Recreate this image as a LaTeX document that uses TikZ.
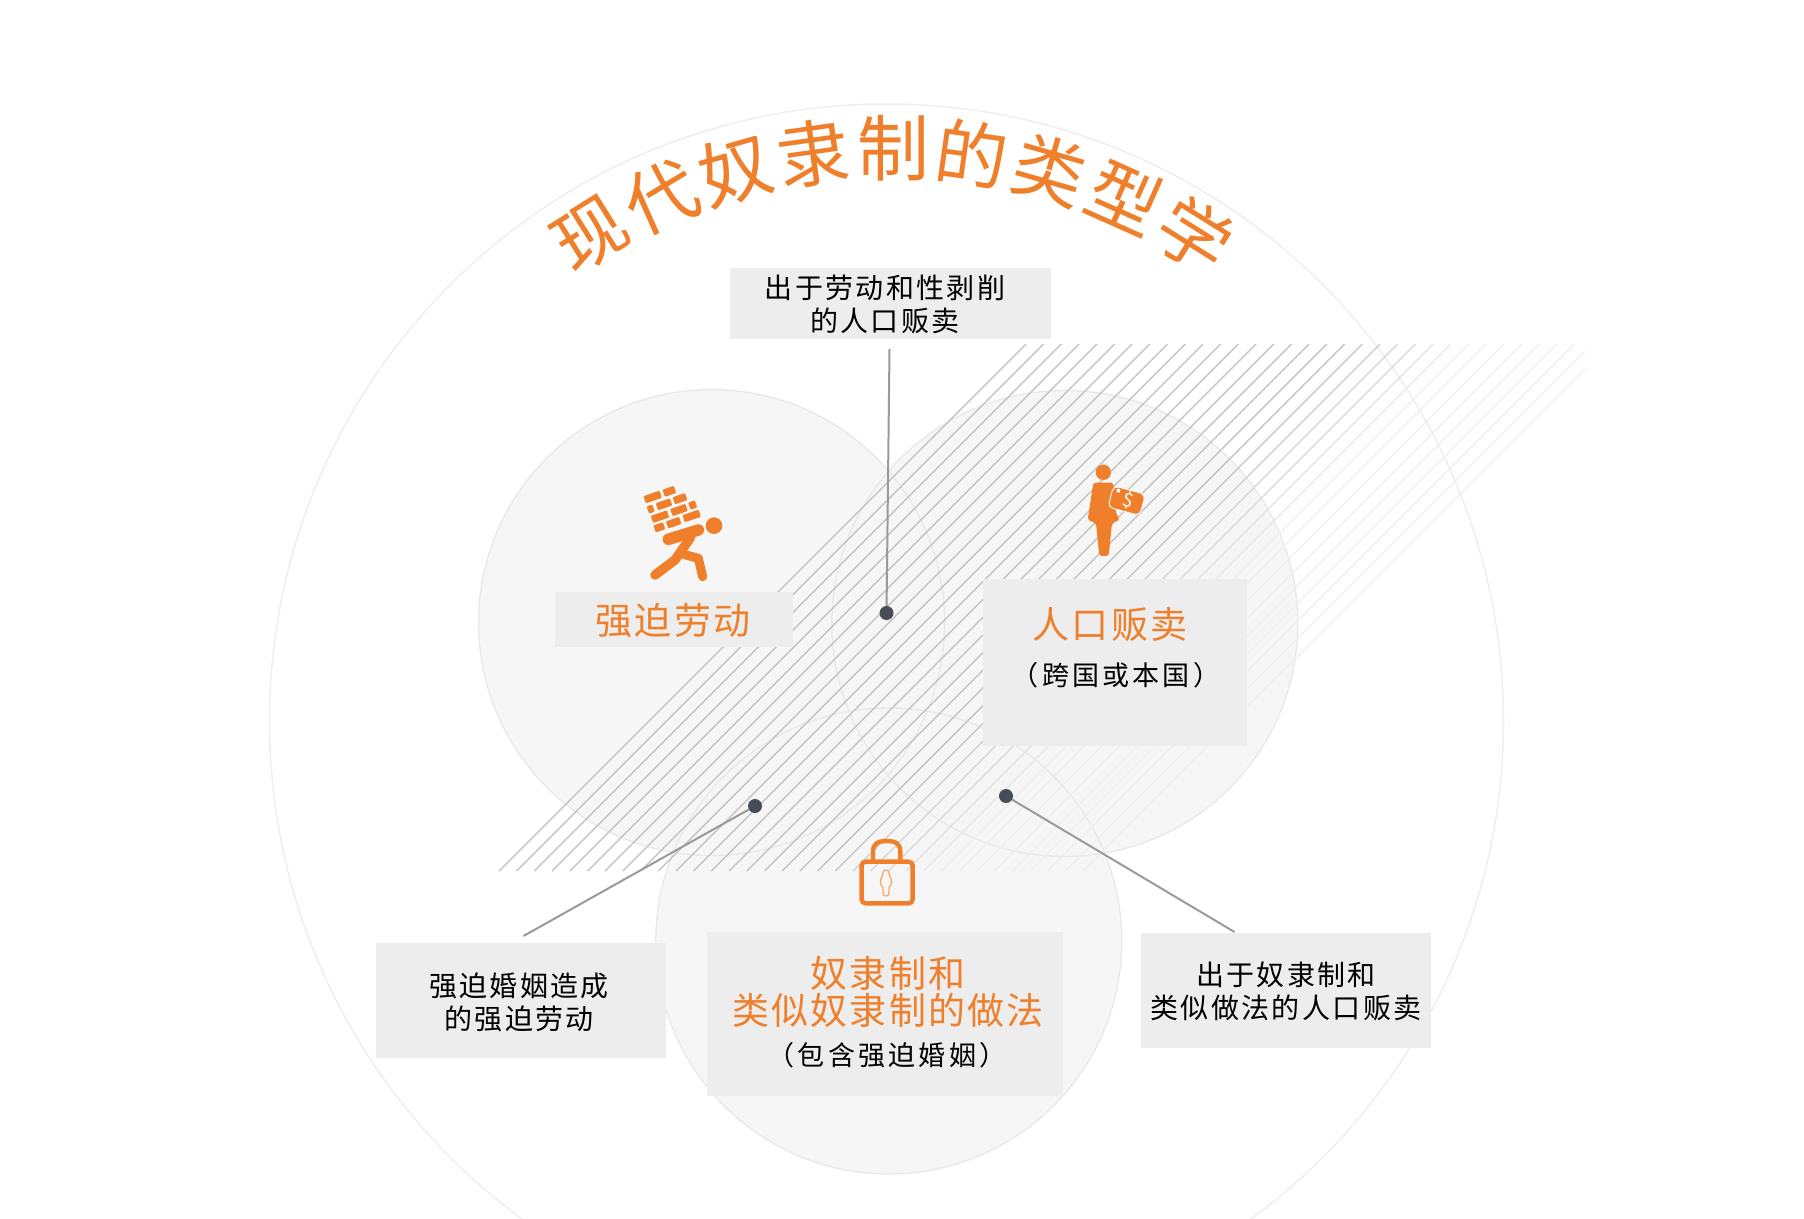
\documentclass[tikz,border=0pt]{standalone}
\usepackage{fontspec}
\newfontfamily\cjk{Noto Sans CJK SC}
\newfontfamily\cjkb{Noto Sans CJK SC}[LetterSpace=8.5]
\newfontfamily\cjkp{Noto Sans CJK SC}[LetterSpace=12]
\newfontfamily\cjko{Noto Sans CJK SC}[LetterSpace=6]
\definecolor{orangeT}{HTML}{EF7F2A}
\definecolor{boxG}{HTML}{EDEDED}
\definecolor{circF}{HTML}{F6F6F6}
\definecolor{circL}{HTML}{E8E8E8}
\definecolor{bigL}{HTML}{EEEEEE}
\definecolor{hatchD}{HTML}{C4C4C4}
\definecolor{hatchL}{HTML}{EFEFEF}
\definecolor{connL}{HTML}{9A9A9A}
\definecolor{dotC}{HTML}{474D56}
\tikzset{
  bigcirc/.style={draw=bigL,line width=1.5pt},
  setcirc/.style={circle,minimum size=466pt,inner sep=0pt},
  greybox/.style={fill=boxG,inner sep=0pt},
  dotnode/.style={circle,fill=dotC,minimum size=14pt,inner sep=0pt},
  conn/.style={draw=connL,line width=2pt},
  small/.style={inner sep=0pt,align=center,text=black,font=\fontsize{28}{33}\cjkb},
  paren/.style={inner sep=0pt,align=center,text=black,font=\fontsize{27}{32}\cjkp},
  big/.style={inner sep=0pt,align=center,text=orangeT,font=\fontsize{37}{37}\cjko},
  titlechar/.style={inner sep=0pt,text=orangeT,font=\fontsize{72}{76}\cjk},
  brick/.style={fill=orangeT,rounded corners=1pt,inner sep=0pt,rotate=19},
}
\begin{document}
\begin{tikzpicture}[x=1pt,y=-1pt]
\useasboundingbox (0,0) rectangle (1804,1218);
\clip (0,0) rectangle (1804,1218);
% outer circle
\draw[bigcirc] (886.5,721) circle[radius=617pt];
% three sets
\node[setcirc,fill=circF] (cl) at (711.6,622.6) {};
\node[setcirc,fill=circF] (cr) at (1064.8,623.5) {};
\node[setcirc,fill=circF] (cb) at (888.8,941) {};
\node[setcirc,draw=circL,line width=1.3pt] at (cl) {};
\node[setcirc,draw=circL,line width=1.3pt] at (cr) {};
\node[setcirc,draw=circL,line width=1.3pt] at (cb) {};
% hatching
\begin{scope}
\clip (0,344) rectangle (1585,871);
\foreach \i in {0,...,33}{
  \pgfmathsetmacro\k{1370+17.7*\i}
  \pgfmathsetmacro\m{max(0,min(100,(1815-\k)/1.25))}
  \draw[line width=1.4pt,color=hatchD!\m!hatchL] ({\k-871},871) -- ({\k-344},344);
}
\end{scope}
% boxes
\path[greybox] (730,268) rectangle (1051,339);
\path[greybox] (555,592) rectangle (793,647);
\path[greybox] (983,579) rectangle (1247,746);
\path[greybox] (707,932) rectangle (1063,1096);
\path[greybox] (376,943) rectangle (666,1058);
\path[greybox] (1141,933) rectangle (1431,1048);
% connectors
\node[dotnode] (d1) at (886.5,613) {};
\node[dotnode] (d2) at (755,806) {};
\node[dotnode] (d3) at (1006,796) {};
\coordinate (e1) at (889.5,349);
\coordinate (e2) at (523.5,936);
\coordinate (e3) at (1234.5,932);
\draw[conn] (e1) -- (d1);
\draw[conn] (e2) -- (d2);
\draw[conn] (e3) -- (d3);
% title
\foreach \c [count=\n from -4] in {现,代,奴,隶,制,的,类,型,学}{
  \pgfmathsetmacro\t{8*\n}
  \node[titlechar,rotate=-\t] (title\n) at ({893+570*sin(\t)},{718-570*cos(\t)}) {\c};
}
% labels
\node[small] (lt) at (885,304.5) {出于劳动和性剥削\\的人口贩卖};
\node[big] (lfl) at (673,620.5) {强迫劳动};
\node[big] (ltr) at (1110,624.5) {人口贩卖};
\node[paren] (ltr2) at (1116,675.5) {（跨国或本国）};
\node[big] (lsl) at (888,992) {奴隶制和\\类似奴隶制的做法};
\node[paren] (lsl2) at (887,1055.5) {（包含强迫婚姻）};
\node[small] (lfm) at (519,1002) {强迫婚姻造成\\的强迫劳动};
\node[small] (lts) at (1286,991.5) {出于奴隶制和\\类似做法的人口贩卖};
% worker icon
\begin{scope}[shift={(600,450)},x=0.3333pt,y=-0.3333pt]
\fill[orangeT] (342,227) circle[radius=25];
\draw[orangeT,line width=11.5pt,line cap=round] (205,268) -- (295,240);
\draw[orangeT,line width=9.5pt,line cap=round,line join=round] (272,262) -- (225,330) -- (165,375);
\draw[orangeT,line width=9pt,line cap=round,line join=round] (240,310) -- (295,325) -- (308,380);
\foreach \x/\y/\w in {158/141/17,208/124/12,192/163/15,240/146/13,152/177/6,278/165/7,237/180/16,180/200/17,275/198/17,178/232/10,221/218/14}{
  \node[brick,minimum width=\w pt,minimum height=7.5pt] at (\x,\y) {};
}
\end{scope}
% porter icon
\begin{scope}[shift={(1050,440)},x=0.3333pt,y=-0.3333pt]
\fill[orangeT] (160,97) circle[radius=23];
\fill[orangeT,rounded corners=2pt] (130,128) -- (190,128) -- (197,215) -- (208,240) -- (186,250) -- (176,348) -- (148,348) -- (138,250) -- (113,240) -- cycle;
\node[fill=orangeT,draw=circF,line width=1pt,rounded corners=5pt,rotate=-15,minimum width=33pt,minimum height=22pt,inner sep=0pt] (bag) at (230,182) {};
\node[inner sep=0pt,rotate=-15,text=white,font=\fontsize{19}{19}\selectfont\cjk] (dollar) at (234,182) {\$};
\fill[white] (205,152) circle[radius=6];
\end{scope}
% lock icon
\begin{scope}[shift={(820,820)},x=0.3333pt,y=-0.3333pt]
\draw[orangeT,line width=4.4pt,rounded corners=4pt] (125,125) rectangle (278,250);
\draw[orangeT,line width=4.4pt] (159,125) -- (159,95) .. controls (159,72) and (172,63) .. (200,63) .. controls (228,63) and (241,72) .. (241,95) -- (241,125);
\draw[orangeT!70,line width=1.2pt] (198,150) .. controls (188,150) and (188,162) .. (188,166) .. controls (178,180) and (180,198) .. (188,200) -- (190,222) .. controls (190,230) and (206,230) .. (206,222) -- (208,200) .. controls (216,198) and (218,180) .. (208,166) .. controls (208,162) and (208,150) .. (198,150) -- cycle;
\end{scope}
\end{tikzpicture}
\end{document}
